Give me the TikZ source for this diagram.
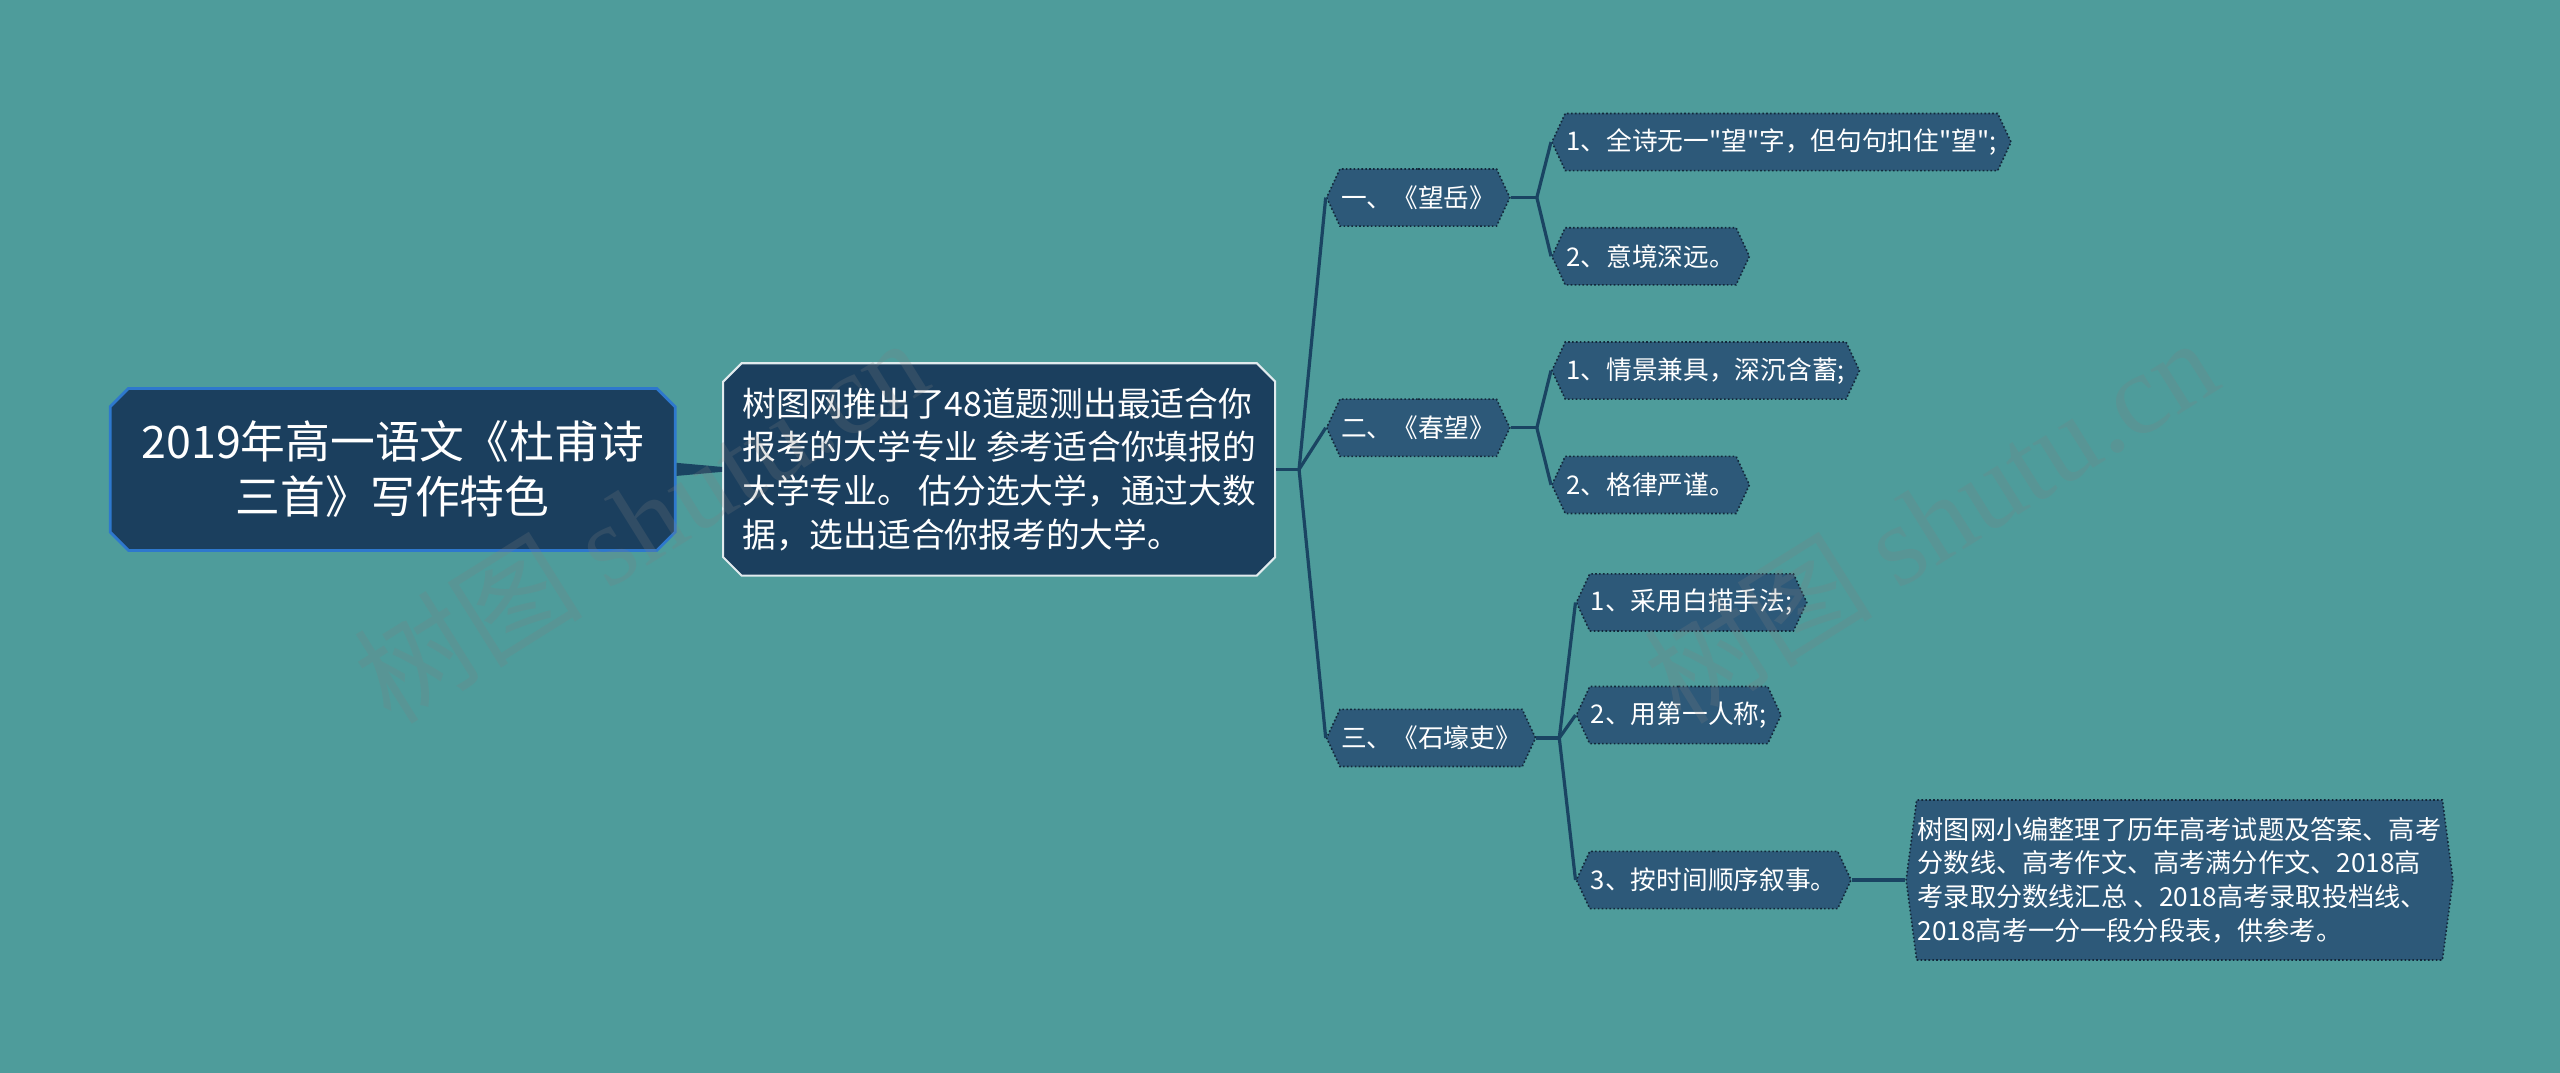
\documentclass[tikz,border=0pt]{standalone}
\usepackage{fontspec}
\newfontfamily\cjk{Noto Sans CJK SC}
\newfontfamily\wmfont{Liberation Serif}
\usepackage{tikz}
\usetikzlibrary{shapes.misc, shapes.symbols, positioning, calc}
\usepackage{xcolor}
\definecolor{cBack}{RGB}{78,156,155}
\definecolor{cRoot}{RGB}{27,63,94}
\definecolor{cRootLine}{RGB}{46,120,205}
\definecolor{cMidLine}{RGB}{225,235,238}
\definecolor{cLevel}{RGB}{45,89,121}
\definecolor{cDot}{RGB}{18,40,58}
\definecolor{cLink}{RGB}{26,68,98}
\tikzset{
  rootnode/.style={chamfered rectangle, chamfered rectangle xsep=4pt,
                   chamfered rectangle ysep=4pt, fill=cRoot,
                   draw=cRootLine, line width=1.2pt, text=white,
                   align=center, inner sep=0pt,
                   minimum width=8.65cm, minimum height=2.48cm,
                   font=\cjk\fontsize{19.5}{24}\selectfont},
  midnode/.style={chamfered rectangle, chamfered rectangle xsep=4pt,
                  chamfered rectangle ysep=4pt, fill=cRoot,
                  draw=cMidLine, line width=0.9pt, text=white,
                  align=left, inner sep=0pt,
                  minimum width=8.45cm, minimum height=3.25cm,
                  font=\cjk\fontsize{14.7}{19.1}\selectfont},
  levelnode/.style={signal, signal to=west and east,
                    signal pointer angle=130, fill=cLevel,
                    draw=cDot, densely dotted, line width=0.7pt,
                    text=white, inner xsep=0.5pt, inner ysep=0pt,
                    minimum height=0.875cm, anchor=west,
                    font=\cjk\fontsize{11.2}{13}\selectfont},
  notenode/.style={signal, signal to=west and east,
                   signal pointer angle=165, fill=cLevel,
                   draw=cDot, densely dotted, line width=0.7pt,
                   text=white, align=left, inner xsep=0.5pt, inner ysep=0pt,
                   minimum height=2.45cm, anchor=west,
                   font=\cjk\fontsize{11.4}{14.7}\selectfont},
  link/.style={draw=cLink, line width=1.4pt},
  wmark/.style={text=gray, opacity=0.22, rotate=32,
                font=\cjk\fontsize{50}{50}\selectfont}
}

\begin{document}
\begin{tikzpicture}[x=0.025cm, y=-0.025cm]
  \useasboundingbox (0,0) rectangle (1568,657);
  \fill[cBack] (0,0) rectangle (1568,657);

  \node[rootnode] (root) at (240.5,287.5)
      {2019年高一语文《杜甫诗\\三首》写作特色};
  \node[midnode] (mid) at (612,287.5)
      {树图网推出了48道题测出最适合你\\
       报考的大学专业 参考适合你填报的\\
       大学专业。 估分选大学，通过大数\\
       据，选出适合你报考的大学。};

  \node[levelnode] (wangyue) at (812,121) {一、《望岳》};
  \node[levelnode] (chunwang) at (812,262) {二、《春望》};
  \node[levelnode] (shihao) at (812,452) {三、《石壕吏》};

  \node[levelnode] (wy1) at (950,87) {1、全诗无一"望"字，但句句扣住"望";};
  \node[levelnode] (wy2) at (950,157) {2、意境深远。};
  \node[levelnode] (cw1) at (950,227) {1、情景兼具，深沉含蓄;};
  \node[levelnode] (cw2) at (950,297) {2、格律严谨。};
  \node[levelnode] (sh1) at (965,369) {1、采用白描手法;};
  \node[levelnode] (sh2) at (965,438) {2、用第一人称;};
  \node[levelnode] (sh3) at (965,539) {3、按时间顺序叙事。};

  \node[notenode] (note) at (1167,539)
      {树图网小编整理了历年高考试题及答案、高考\\
       分数线、高考作文、高考满分作文、2018高\\
       考录取分数线汇总 、2018高考录取投档线、\\
       2018高考一分一段分段表，供参考。};

  \fill[cLink] ($(root.east)+(0,-4)$) -- ($(mid.west)+(0,-1.5)$)
      -- ($(mid.west)+(0,1.5)$) -- ($(root.east)+(0,4)$) -- cycle;

  \coordinate (j0) at ($(mid.east)+(14,0)$);
  \coordinate (j1) at ($(wangyue.east)+(16,0)$);
  \coordinate (j2) at ($(chunwang.east)+(16,0)$);
  \coordinate (j3) at ($(shihao.east)+(14,0)$);
  \foreach \from/\to in {mid/j0, wangyue/j1, chunwang/j2, shihao/j3}
    \draw[link] (\from.east) -- (\to);
  \foreach \from/\to in {j0/wangyue, j0/chunwang, j0/shihao, j1/wy1, j1/wy2,
                         j2/cw1, j2/cw2, j3/sh1, j3/sh2, j3/sh3}
    \draw[link] (\from) -- (\to.west);
  \draw[link] (sh3.east) -- (note.west);

  \node[wmark] (wm1) at (392,318) {树图 {\wmfont shutu.cn}};
  \node[wmark] (wm2) at (1182,318) {树图 {\wmfont shutu.cn}};
\end{tikzpicture}
\end{document}
